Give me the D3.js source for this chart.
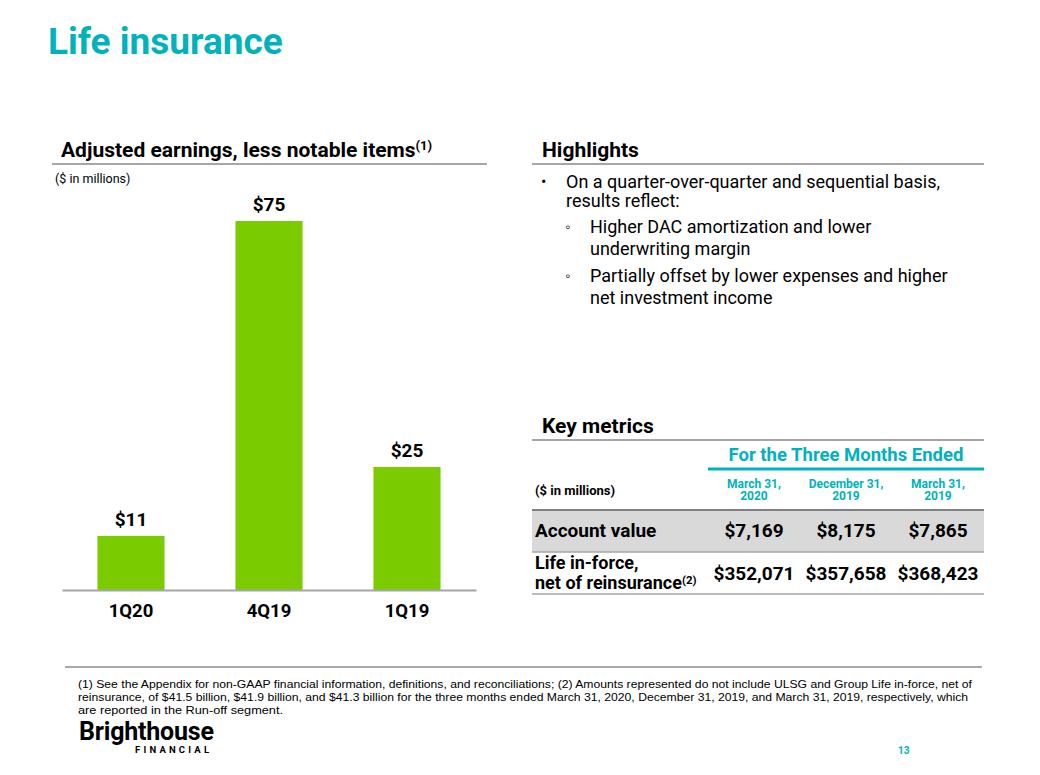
<!DOCTYPE html>
<html>
<head>
<meta charset="utf-8">
<script src="https://cdnjs.cloudflare.com/ajax/libs/d3/7.8.5/d3.min.js"></script>
<style>
  body { margin: 0; background: #fff; }
  svg { font-family: Roboto, "Noto Sans", sans-serif; }
</style>
</head>
<body>
<div id="chart"></div>
<script>
// Adjusted earnings, less notable items
var quarters = ['1Q20', '4Q19', '1Q19'];
var earnings = [11, 75, 25];

// Key metrics table
var periodHeads = [['March 31,', '2020'], ['December 31,', '2019'], ['March 31,', '2019']];
var accountValue = ['$7,169', '$8,175', '$7,865'];
var lifeInForce = ['$352,071', '$357,658', '$368,423'];

var highlights = [
	{ level: 0, lines: ['On a quarter-over-quarter and sequential basis,', 'results reflect:'] },
	{ level: 1, lines: ['Higher DAC amortization and lower', 'underwriting margin'] },
	{ level: 1, lines: ['Partially offset by lower expenses and higher', 'net investment income'] }
];

var footnotes = [
	'(1) See the Appendix for non-GAAP financial information, definitions, and reconciliations; (2) Amounts represented do not include ULSG and Group Life in-force, net of',
	'reinsurance, of $41.5 billion, $41.9 billion, and $41.3 billion for the three months ended March 31, 2020, December 31, 2019, and March 31, 2019, respectively, which',
	'are reported in the Run-off segment.'
];

var teal = '#00b2bd';
var green = '#7acc00';
var ruleGray = '#a6a6a6';

var svg = d3.select('#chart')
	.append('svg')
	.attr('width', 1040)
	.attr('height', 775);

// title
svg.append('text')
	.attr('x', 48)
	.attr('y', 54)
	.style('font-size', '37px')
	.style('font-weight', 700)
	.style('fill', teal)
	.text('Life insurance');

// section header helper
function header(x, y, label, sup, x1, x2, ruleY) {
	var t = svg.append('text')
		.attr('x', x)
		.attr('y', y)
		.style('font-size', '21px')
		.style('font-weight', 700)
		.style('fill', '#000');
	t.append('tspan').text(label);
	if (sup) {
		t.append('tspan')
			.attr('dy', -7)
			.style('font-size', '13px')
			.text(sup);
	}
	svg.append('line')
		.attr('x1', x1).attr('x2', x2)
		.attr('y1', ruleY).attr('y2', ruleY)
		.style('stroke', ruleGray)
		.style('stroke-width', 2);
}

header(61, 157, 'Adjusted earnings, less notable items', '(1)', 52, 487, 164);
header(542, 157, 'Highlights', null, 532, 984, 164);
header(542, 433, 'Key metrics', null, 532, 984, 440);

svg.append('text')
	.attr('x', 55)
	.attr('y', 183)
	.style('font-size', '12.5px')
	.text('($ in millions)');

// bar chart
var x = d3.scaleBand()
	.domain(quarters)
	.range([62, 476])
	.paddingInner(0.514)
	.paddingOuter(0.257);

var y = d3.scaleLinear()
	.domain([0, 75])
	.range([590, 221]);

var bars = svg.selectAll('.bar')
	.data(earnings)
	.enter().append('g')
	.attr('class', 'bar');

bars.append('rect')
	.attr('x', function(d, i){ return x(quarters[i]); })
	.attr('y', function(d){ return y(d); })
	.attr('width', x.bandwidth())
	.attr('height', function(d){ return y(0) - y(d); })
	.style('fill', green);

bars.append('text')
	.attr('x', function(d, i){ return x(quarters[i]) + x.bandwidth() / 2; })
	.attr('y', function(d){ return y(d) - 10; })
	.style('text-anchor', 'middle')
	.style('font-size', '19px')
	.style('font-weight', 700)
	.text(function(d){ return '$' + d; });

var xAxis = svg.append('g')
	.attr('transform', 'translate(0,' + y(0) + ')')
	.call(d3.axisBottom(x).tickSize(0).tickPadding(14));

xAxis.select('.domain')
	.attr('stroke', ruleGray)
	.attr('stroke-width', 2);

xAxis.selectAll('text')
	.style('font-family', 'Roboto, sans-serif')
	.style('font-size', '18.5px')
	.style('font-weight', 700)
	.style('fill', '#000');

// highlights
var hy = 188;
highlights.forEach(function(h){
	var bx = h.level === 0 ? 541 : 565;
	var tx = h.level === 0 ? 566 : 590;
	var gap = h.level === 0 ? 19 : 22;
	svg.append('text')
		.attr('x', bx)
		.attr('y', hy - 1)
		.style('font-size', h.level === 0 ? '16px' : '15px')
		.text(h.level === 0 ? '•' : '◦');
	h.lines.forEach(function(line, j){
		svg.append('text')
			.attr('x', tx)
			.attr('y', hy + j * gap)
			.style('font-size', '18px')
			.style('fill', '#000')
			.text(line);
	});
	hy += h.level === 0 ? 45 : 49;
});

// key metrics table
var colX = [754, 846, 938];

svg.append('text')
	.attr('x', 846)
	.attr('y', 461)
	.style('text-anchor', 'middle')
	.style('font-size', '18.5px')
	.style('font-weight', 700)
	.style('fill', teal)
	.text('For the Three Months Ended');

svg.append('line')
	.attr('x1', 708).attr('x2', 984)
	.attr('y1', 469).attr('y2', 469)
	.style('stroke', teal)
	.style('stroke-width', 3);

svg.append('text')
	.attr('x', 535)
	.attr('y', 495)
	.style('font-size', '13px')
	.style('font-weight', 700)
	.text('($ in millions)');

periodHeads.forEach(function(p, i){
	p.forEach(function(line, j){
		svg.append('text')
			.attr('x', colX[i])
			.attr('y', 488 + j * 12)
			.style('text-anchor', 'middle')
			.style('font-size', '12px')
			.style('font-weight', 700)
			.style('fill', teal)
			.text(line);
	});
});

svg.append('rect')
	.attr('x', 532).attr('y', 510)
	.attr('width', 452).attr('height', 42)
	.style('fill', '#d9d9d9');

svg.append('line')
	.attr('x1', 532).attr('x2', 984)
	.attr('y1', 510).attr('y2', 510)
	.style('stroke', '#808080')
	.style('stroke-width', 2);

svg.append('line')
	.attr('x1', 532).attr('x2', 984)
	.attr('y1', 552).attr('y2', 552)
	.style('stroke', '#a6a6a6')
	.style('stroke-width', 1.5);

svg.append('line')
	.attr('x1', 532).attr('x2', 984)
	.attr('y1', 594).attr('y2', 594)
	.style('stroke', '#a6a6a6')
	.style('stroke-width', 1.5);

svg.append('text')
	.attr('x', 535)
	.attr('y', 537)
	.style('font-size', '19px')
	.style('font-weight', 700)
	.text('Account value');

svg.selectAll('.av')
	.data(accountValue)
	.enter().append('text')
	.attr('class', 'av')
	.attr('x', function(d, i){ return colX[i]; })
	.attr('y', 537)
	.style('text-anchor', 'middle')
	.style('font-size', '19px')
	.style('font-weight', 700)
	.text(function(d){ return d; });

svg.append('text')
	.attr('x', 535)
	.attr('y', 569)
	.style('font-size', '18px')
	.style('font-weight', 700)
	.text('Life in-force,');

var nr = svg.append('text')
	.attr('x', 535)
	.attr('y', 589)
	.style('font-size', '18px')
	.style('font-weight', 700);
nr.append('tspan').text('net of reinsurance');
nr.append('tspan').attr('dy', -5).style('font-size', '11.5px').text('(2)');

svg.selectAll('.lif')
	.data(lifeInForce)
	.enter().append('text')
	.attr('class', 'lif')
	.attr('x', function(d, i){ return colX[i]; })
	.attr('y', 580)
	.style('text-anchor', 'middle')
	.style('font-size', '19px')
	.style('font-weight', 700)
	.text(function(d){ return d; });

// footnotes
svg.append('line')
	.attr('x1', 65).attr('x2', 982)
	.attr('y1', 667).attr('y2', 667)
	.style('stroke', '#8c8c8c')
	.style('stroke-width', 1.5);

var fnWidths = [894, 890, 205];
footnotes.forEach(function(f, i){
	svg.append('text')
		.attr('x', 78)
		.attr('y', 688 + i * 13)
		.attr('textLength', fnWidths[i])
		.attr('lengthAdjust', 'spacingAndGlyphs')
		.style('font-family', '"Liberation Sans Narrow", "Liberation Sans", Arial, sans-serif')
		.style('font-size', '11px')
		.style('fill', '#000')
		.text(f);
});

// logo
svg.append('text')
	.attr('x', 79)
	.attr('y', 740)
	.style('font-size', '25px')
	.style('font-weight', 700)
	.style('letter-spacing', '-0.2px')
	.text('Brighthouse');

svg.append('text')
	.attr('x', 135)
	.attr('y', 753)
	.style('font-size', '9.5px')
	.style('font-weight', 700)
	.style('letter-spacing', '3.2px')
	.text('FINANCIAL');

svg.append('text')
	.attr('x', 898)
	.attr('y', 754)
	.style('font-size', '10px')
	.style('font-weight', 700)
	.style('fill', teal)
	.text('13');
</script>
</body>
</html>
